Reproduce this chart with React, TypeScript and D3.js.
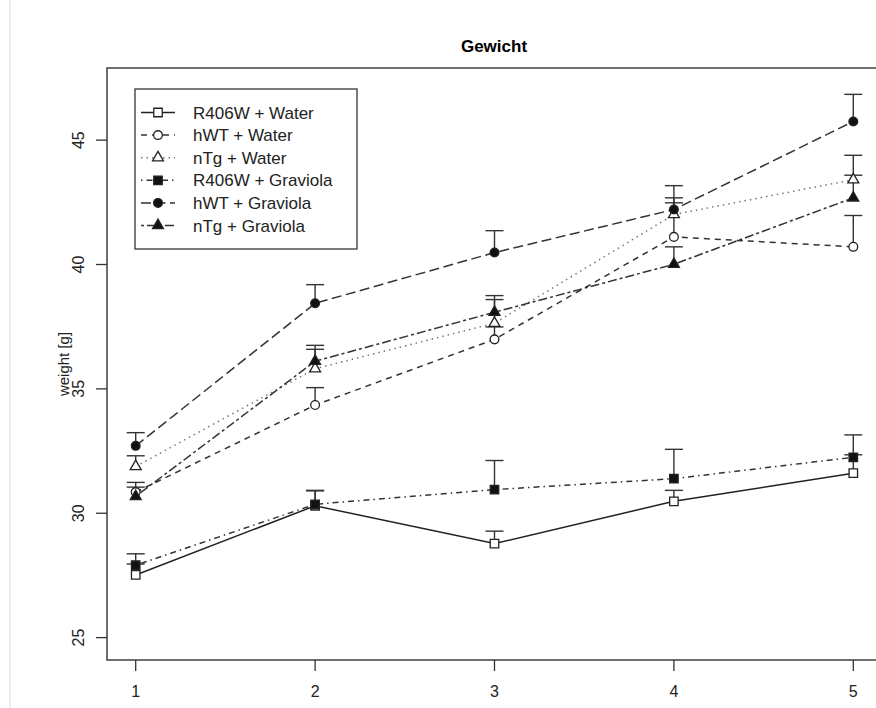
import React from "react";
import * as d3 from "d3";

// data (mean weight and upper error bar per week)
const weeks = [1, 2, 3, 4, 5];
const yTicks = [25, 30, 35, 40, 45];
const groups = [
  "R406W + Water",
  "hWT + Water",
  "nTg + Water",
  "R406W + Graviola",
  "hWT + Graviola",
  "nTg + Graviola",
];
const r406wWater = [27.52, 30.3, 28.78, 30.48, 31.61];
const r406wWaterSe = [0.44, 0.6, 0.5, 0.44, 0.74];
const hwtWater = [30.85, 34.35, 36.99, 41.11, 40.71];
const hwtWaterSe = [0.2, 0.7, 0.5, 1.37, 1.26];
const ntgWater = [31.88, 35.81, 37.64, 42.01, 43.41];
const ntgWaterSe = [0.43, 0.78, 0.95, 0.67, 0.98];
const r406wGrav = [27.91, 30.36, 30.95, 31.39, 32.25];
const r406wGravSe = [0.46, 0.56, 1.17, 1.18, 0.9];
const hwtGrav = [32.71, 38.44, 40.48, 42.21, 45.75];
const hwtGravSe = [0.53, 0.75, 0.88, 0.96, 1.09];
const ntgGrav = [30.68, 36.11, 38.08, 40.01, 42.68];
const ntgGravSe = [0.56, 0.64, 0.67, 0.7, 0.91];

const means = [r406wWater, hwtWater, ntgWater, r406wGrav, hwtGrav, ntgGrav];
const errs = [r406wWaterSe, hwtWaterSe, ntgWaterSe, r406wGravSe, hwtGravSe, ntgGravSe];

// R style lty 1..6 and pch 0,1,2,15,16,17
const dashes = ["", "6 5", "1.5 4", "1.5 4 6 4", "10 4.5", "3 3 9 3"];
const lineColor = ["#222", "#333", "#777", "#333", "#333", "#333"];
const shapes = [d3.symbolSquare, d3.symbolCircle, d3.symbolTriangle, d3.symbolSquare, d3.symbolCircle, d3.symbolTriangle];
const sizes = [72, 60, 52, 72, 60, 52];
const filled = [false, false, false, true, true, true];

const W = 876,
  H = 708;
const margin = { left: 107, right: 882, top: 68, bottom: 660 };
const font = "'Liberation Sans', Arial, Helvetica, sans-serif";

const App = () => {
  const x = d3.scaleLinear().domain([0.84, 5.16]).range([margin.left, margin.right]);
  const y = d3.scaleLinear().domain([24.1, 47.9]).range([margin.bottom, margin.top]);
  const line = d3
    .line<number>()
    .x((d, i) => x(weeks[i]))
    .y((d) => y(d));

  const marker = (k: number, cx: number, cy: number, key: string) => (
    <path
      key={key}
      d={d3.symbol().type(shapes[k]).size(sizes[k])() as string}
      transform={`translate(${cx},${cy})`}
      fill={filled[k] ? "#111" : "#fff"}
      stroke="#222"
      strokeWidth={1.3}
    />
  );

  const legX = 135,
    legY = 89,
    legRow = 22.6;

  return (
    <svg width={W} height={H} style={{ position: "absolute", left: 0, top: 0, background: "#fff" }}>
      {/* faint frame of the scanned figure */}
      <line x1={10} x2={10} y1={0} y2={H} stroke="#eee" strokeWidth={2} />

      <text x={494} y={52} textAnchor="middle" fontFamily={font} fontWeight="bold" fontSize={17}>
        Gewicht
      </text>

      {/* lines */}
      {means.map((m, k) => (
        <path
          key={"l" + k}
          d={line(m) as string}
          fill="none"
          stroke={lineColor[k]}
          strokeWidth={1.5}
          strokeDasharray={dashes[k]}
        />
      ))}

      {/* error bars, upper only */}
      {means.map((m, k) =>
        m.map((v, i) => (
          <g key={"e" + k + i} stroke="#333" strokeWidth={1.4}>
            <line x1={x(weeks[i])} x2={x(weeks[i])} y1={y(v)} y2={y(v + errs[k][i])} />
            <line x1={x(weeks[i]) - 9} x2={x(weeks[i]) + 9} y1={y(v + errs[k][i])} y2={y(v + errs[k][i])} />
          </g>
        ))
      )}

      {/* points */}
      {means.map((m, k) => m.map((v, i) => marker(k, x(weeks[i]), y(v), "p" + k + i)))}

      {/* box */}
      <rect
        x={margin.left}
        y={margin.top}
        width={margin.right - margin.left}
        height={margin.bottom - margin.top}
        fill="none"
        stroke="#333"
        strokeWidth={1.4}
      />

      {/* y axis */}
      {yTicks.map((t) => (
        <g key={"y" + t}>
          <line x1={margin.left - 11} x2={margin.left} y1={y(t)} y2={y(t)} stroke="#333" strokeWidth={1.3} />
          <text
            transform={`translate(${84},${y(t)}) rotate(-90)`}
            textAnchor="middle"
            fontFamily={font}
            fontSize={16}
            fill="#222"
          >
            {t}
          </text>
        </g>
      ))}
      <text
        transform={`translate(${69},${(margin.top + margin.bottom) / 2}) rotate(-90)`}
        textAnchor="middle"
        fontFamily={font}
        fontSize={15}
        fill="#222"
      >
        weight [g]
      </text>

      {/* x axis */}
      {weeks.map((w) => (
        <g key={"x" + w}>
          <line x1={x(w)} x2={x(w)} y1={margin.bottom} y2={margin.bottom + 11} stroke="#333" strokeWidth={1.3} />
          <text x={x(w)} y={697} textAnchor="middle" fontFamily={font} fontSize={16} fill="#222">
            {w}
          </text>
        </g>
      ))}

      {/* legend */}
      <rect x={legX} y={legY} width={222} height={160} fill="#fff" stroke="#444" strokeWidth={1.4} />
      {groups.map((g, k) => {
        const ly = legY + 23.5 + k * legRow;
        return (
          <g key={"g" + k}>
            <line x1={legX + 6} x2={legX + 40} y1={ly} y2={ly} stroke={lineColor[k]} strokeWidth={1.5} strokeDasharray={dashes[k]} />
            {marker(k, legX + 23, ly, "lm" + k)}
            <text x={legX + 58} y={ly + 6} fontFamily={font} fontSize={17} fill="#222">
              {g}
            </text>
          </g>
        );
      })}
    </svg>
  );
};

export default App;
